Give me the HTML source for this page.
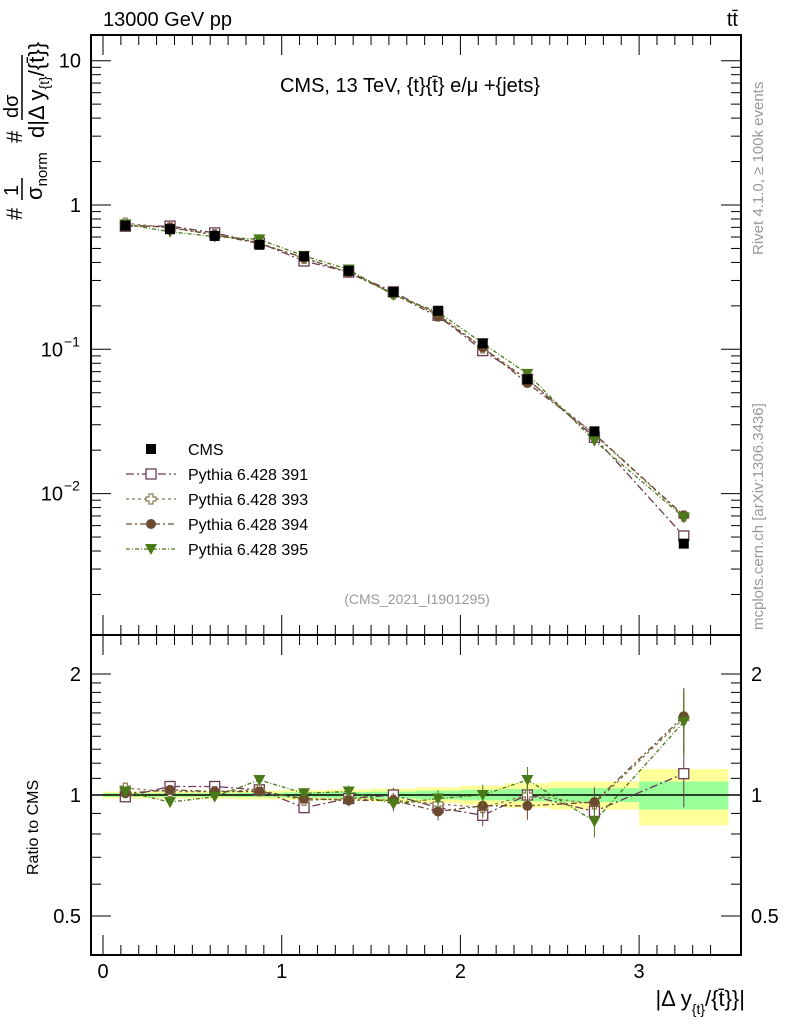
<!DOCTYPE html>
<html><head><meta charset="utf-8"><style>
html,body{margin:0;padding:0;background:#fff;}
svg{display:block;font-family:"Liberation Sans",sans-serif;}
</style></head><body>
<svg id="chart" width="786" height="1024" xmlns="http://www.w3.org/2000/svg"></svg>
<script>
const binLo=[0,0.25,0.5,0.75,1,1.25,1.5,1.75,2,2.25,2.5,3];
const binHi=[0.25,0.5,0.75,1,1.25,1.5,1.75,2,2.25,2.5,3,3.5];
const cmsVals=[0.72,0.68,0.61,0.53,0.44,0.35,0.25,0.185,0.11,0.062,0.027,0.0045];
const r391=[0.99,1.05,1.05,1.03,0.93,0.98,1.0,0.93,0.89,1.0,0.91,1.13];
const r393=[1.04,1.02,1.02,1.03,0.97,0.98,0.97,0.95,0.93,1.0,0.95,1.55];
const r394=[1.01,1.03,1.02,1.02,0.98,0.97,0.97,0.91,0.94,0.94,0.96,1.57];
const r395=[1.02,0.96,0.99,1.09,1.01,1.02,0.95,0.98,1.0,1.09,0.86,1.52];
const statErr=[0.01,0.01,0.01,0.012,0.015,0.018,0.02,0.025,0.03,0.035,0.04,0.08];
const totErr=[0.02,0.02,0.022,0.025,0.028,0.032,0.038,0.045,0.055,0.07,0.08,0.16];
const xTicks=[0,1,2,3];
const ratioTicks=[0.5,1,2];

const svg=document.getElementById('chart');
const NS='http://www.w3.org/2000/svg';
function mk(tag,attrs,parent){const e=document.createElementNS(NS,tag);for(const k in attrs)e.setAttribute(k,attrs[k]);(parent||svg).appendChild(e);return e;}
const L=91,R=741,T1=35,B1=635,T2=635,B2=955;
const X=v=>103+v*178.7;
const Y1=v=>205-Math.log10(v)*144.3;
const Y2=v=>795-Math.log10(v)*402;

for(let i=0;i<binLo.length;i++){
  const y=mk('rect',{x:X(binLo[i]),y:Y2(1+totErr[i]),width:X(binHi[i])-X(binLo[i]),height:Y2(1-totErr[i])-Y2(1+totErr[i]),fill:'#ffff99'});
  
  
  const g=mk('rect',{x:X(binLo[i]),y:Y2(1+statErr[i]),width:X(binHi[i])-X(binLo[i]),height:Y2(1-statErr[i])-Y2(1+statErr[i]),fill:'#99ff99'});
  
  
}
mk('line',{x1:L,x2:R,y1:Y2(1),y2:Y2(1),stroke:'#000','stroke-width':1.5});

const series=[
 {name:'Pythia 6.428 391',r:r391,c:'#6b3a55',m:'sq',dash:'8,3,2,3'},
 {name:'Pythia 6.428 393',r:r393,c:'#8b7a50',m:'cross',dash:'3,3'},
 {name:'Pythia 6.428 394',r:r394,c:'#6b4a30',m:'circ',dash:'6,3,2,3'},
 {name:'Pythia 6.428 395',r:r395,c:'#4b7a1a',m:'tri',dash:'4,2,1,2'}];
const cx=binLo.map((l,i)=>(l+binHi[i])/2);
function marker(m,x,y,c,name){
  let e;
  if(m==='sq')e=mk('rect',{x:x-5,y:y-5,width:10,height:10,fill:'#fff',stroke:c,'stroke-width':1.3});
  else if(m==='cross')e=mk('path',{d:`M${x-2},${y-5}h4v3h3v4h-3v3h-4v-3h-3v-4h3z`,fill:'#fff',stroke:c,'stroke-width':1.2});
  else if(m==='circ')e=mk('circle',{cx:x,cy:y,r:5,fill:c});
  else if(m==='tri')e=mk('path',{d:`M${x-6},${y-5}L${x+6},${y-5}L${x},${y+6}z`,fill:c});
  else e=mk('rect',{x:x-5,y:y-5,width:10,height:10,fill:'#000'});
  
  
}
series.forEach((s,k)=>{
  const p1=cx.map((x,i)=>X(x)+','+Y1(cmsVals[i]*s.r[i])).join(' ');
  const l1=mk('polyline',{points:p1,fill:'none',stroke:s.c,'stroke-width':1.3,'stroke-dasharray':s.dash});
  
  
  const p2=cx.map((x,i)=>X(x)+','+Y2(s.r[i])).join(' ');
  const l2=mk('polyline',{points:p2,fill:'none',stroke:s.c,'stroke-width':1.3,'stroke-dasharray':s.dash});
  
  
  cx.forEach((x,i)=>{
    const e=totErr[i]*1.1;
    mk('line',{x1:X(x),x2:X(x),y1:Y2(s.r[i]*(1+e)),y2:Y2(s.r[i]*(1-e)),stroke:s.c,'stroke-width':1});
    marker(s.m,X(x),Y1(cmsVals[i]*s.r[i]),s.c,'series-point');
    marker(s.m,X(x),Y2(s.r[i]),s.c,'ratio-point');
  });
});
cx.forEach((x,i)=>marker('cms',X(x),Y1(cmsVals[i]),'#000','cms-point'));
const f1=mk('rect',{x:L,y:T1,width:R-L,height:B1-T1,fill:'none',stroke:'#000','stroke-width':2});

const f2=mk('rect',{x:L,y:T2,width:R-L,height:B2-T2,fill:'none',stroke:'#000','stroke-width':2});

for(let d=-3;d<=1;d++){for(let m=1;m<10;m++){const v=m*Math.pow(10,d);const y=Y1(v);if(y<T1||y>B1)continue;const len=m===1?20:10;
 mk('line',{x1:L,x2:L+len,y1:y,y2:y,stroke:'#000'});mk('line',{x1:R,x2:R-len,y1:y,y2:y,stroke:'#000'});}}
const yl=[[10,'10'],[1,'1']];
yl.forEach(([v,t])=>{const e=mk('text',{x:L-10,y:Y1(v)+7,'text-anchor':'end','font-size':20});e.textContent=t;});
[[0.1,'10'],[0.01,'10']].forEach(([v,t],k)=>{const e=mk('text',{x:L-28,y:Y1(v)+7,'text-anchor':'end','font-size':20});e.textContent=t;
 const s=mk('text',{x:L-27,y:Y1(v)-3,'text-anchor':'start','font-size':14});s.textContent=k===0?'−1':'−2';});
for(let v=0;v<=3.5;v+=0.1){const x=X(v);if(x<L||x>R)continue;const major=Math.abs(v-Math.round(v))<1e-6;const len=major?20:10;
 [B1,B2].forEach(b=>mk('line',{x1:x,x2:x,y1:b,y2:b-len,stroke:'#000'}));
 [T1,T2].forEach(b=>mk('line',{x1:x,x2:x,y1:b,y2:b+len,stroke:'#000'}));}
xTicks.forEach(v=>{const e=mk('text',{x:X(v),y:978,'text-anchor':'middle','font-size':20});e.textContent=v;
 });
[0.4,0.5,0.6,0.7,0.8,0.9,1,2].concat([1.1,1.2,1.3,1.4,1.5,1.6,1.7,1.8,1.9]).forEach(v=>{const y=Y2(v);if(y<T2||y>B2)return;const len=(v===0.5||v===1||v===2)?20:10;
 mk('line',{x1:L,x2:L+len,y1:y,y2:y,stroke:'#000'});mk('line',{x1:R,x2:R-len,y1:y,y2:y,stroke:'#000'});});
ratioTicks.forEach(v=>{const t=String(v);
 const a=mk('text',{x:L-10,y:Y2(v)+7,'text-anchor':'end','font-size':20});a.textContent=t;
 const b=mk('text',{x:R+10,y:Y2(v)+7,'text-anchor':'start','font-size':20});b.textContent=t;});
const lg=[['CMS','cms','#000']].concat(series.map(s=>[s.name,s.m,s.c]));
lg.forEach((l,i)=>{const y=449+i*25;
 if(i>0){mk('line',{x1:126,x2:176,y1:y,y2:y,stroke:l[2],'stroke-width':1.3,'stroke-dasharray':series[i-1].dash});}
 marker(l[1],151,y,l[2],'legend-marker');
 const t=mk('text',{x:188,y:y+6,'font-size':16});t.textContent=l[0];
 });
</script>
<svg width="786" height="1024" style="position:absolute;left:0;top:0" xmlns="http://www.w3.org/2000/svg" font-family="Liberation Sans, sans-serif">
<text x="103" y="26" font-size="20">13000 GeV pp</text>
<text x="738" y="26" font-size="20" text-anchor="end">tt̄</text>
<text x="410" y="92" font-size="20" text-anchor="middle">CMS, 13 TeV, {t}{t̄} e/μ +{jets}</text>
<text x="417" y="604" font-size="14" fill="#999" text-anchor="middle">(CMS_2021_I1901295)</text>
<g font-size="22">
<text transform="translate(22,220) rotate(-90)">#</text>
<text transform="translate(18,196) rotate(-90)" font-size="20">1</text>
<line x1="22" y1="178" x2="22" y2="200" stroke="#000" stroke-width="1.5"/>
<text transform="translate(42,200) rotate(-90)">σ<tspan font-size="15" dy="5">norm</tspan></text>
<text transform="translate(22,143) rotate(-90)">#</text>
<text transform="translate(18,118) rotate(-90)" font-size="20">dσ</text>
<line x1="22" y1="55" x2="22" y2="120" stroke="#000" stroke-width="1.5"/>
<text transform="translate(44,138) rotate(-90)">d|Δ y<tspan font-size="14" dy="5">{t}</tspan><tspan dy="-5">/{t̄}}</tspan></text>
</g>
<text transform="translate(38,875) rotate(-90)" font-size="16">Ratio to CMS</text>
<text x="745" y="1006" font-size="22" text-anchor="end">|Δ y<tspan font-size="14" dy="8">{t}</tspan><tspan dy="-8">/{t̄}}|</tspan></text>
<text transform="translate(763,255) rotate(-90)" font-size="15" fill="#999">Rivet 4.1.0, ≥ 100k events</text>
<text transform="translate(763,630) rotate(-90)" font-size="15" fill="#999">mcplots.cern.ch [arXiv:1306.3436]</text>
</svg>
</body></html>
